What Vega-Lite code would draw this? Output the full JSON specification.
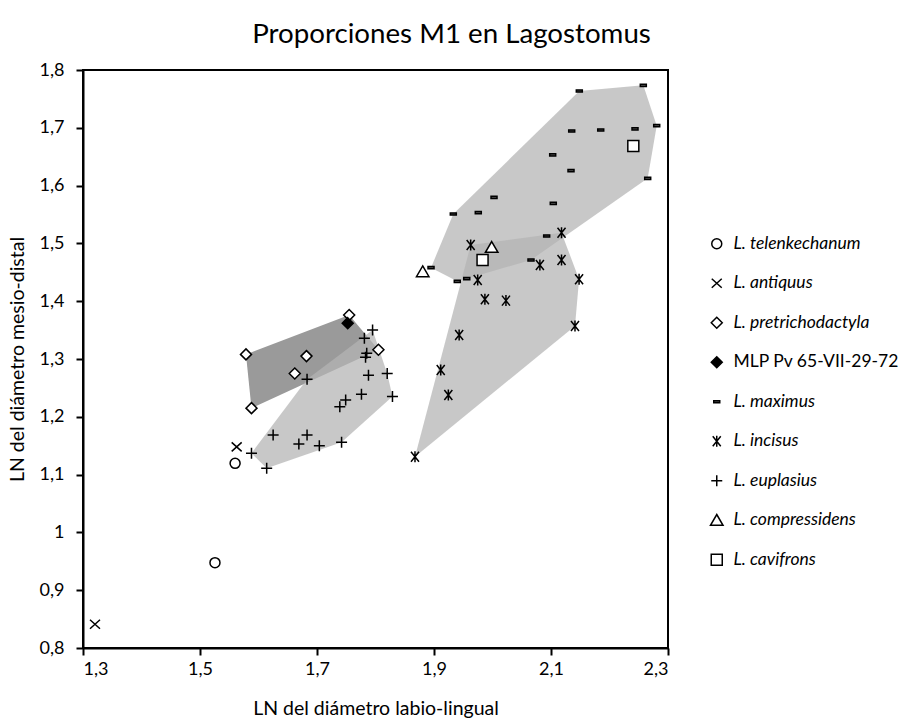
{
  "$schema": "https://vega.github.io/schema/vega-lite/v6.json",
  "width": 585,
  "height": 578,
  "autosize": {"type": "none"},
  "padding": {"left": 83, "top": 70, "right": 236, "bottom": 73},
  "background": "white",
  "title": {
    "text": "Proporciones M1 en Lagostomus",
    "font": "Lato",
    "fontSize": 27.7,
    "fontWeight": "normal",
    "color": "black",
    "anchor": "middle",
    "dx": 76,
    "offset": 12
  },
  "config": {
    "view": {"stroke": "black", "strokeWidth": 2},
    "axis": {
      "domainColor": "black", "domainWidth": 2,
      "tickColor": "black", "tickWidth": 2, "tickSize": 7,
      "labelFont": "Lato", "labelFontSize": 18, "labelColor": "black",
      "titleFont": "Lato", "titleFontSize": 19.5, "titleFontWeight": "normal", "titleColor": "black",
      "grid": false
    }
  },
  "datasets": {
    "pts": [
      {"sp": "L. telenkechanum", "x": 1.560, "y": 1.1195},
      {"sp": "L. telenkechanum", "x": 1.5256, "y": 0.9476},
      {"sp": "L. antiquus", "x": 1.5627, "y": 1.148},
      {"sp": "L. antiquus", "x": 1.3205, "y": 0.841},
      {"sp": "L. maximus", "x": 2.1484, "y": 1.7637},
      {"sp": "L. maximus", "x": 2.2578, "y": 1.7735},
      {"sp": "L. maximus", "x": 2.2807, "y": 1.7036},
      {"sp": "L. maximus", "x": 2.1354, "y": 1.6945},
      {"sp": "L. maximus", "x": 2.185, "y": 1.6962},
      {"sp": "L. maximus", "x": 2.2436, "y": 1.698},
      {"sp": "L. maximus", "x": 2.1029, "y": 1.653},
      {"sp": "L. maximus", "x": 2.1342, "y": 1.6258},
      {"sp": "L. maximus", "x": 2.2653, "y": 1.6126},
      {"sp": "L. maximus", "x": 2.0026, "y": 1.5797},
      {"sp": "L. maximus", "x": 2.1039, "y": 1.5694},
      {"sp": "L. maximus", "x": 1.933, "y": 1.5509},
      {"sp": "L. maximus", "x": 1.9757, "y": 1.5531},
      {"sp": "L. maximus", "x": 2.0926, "y": 1.5128},
      {"sp": "L. maximus", "x": 2.0658, "y": 1.4713},
      {"sp": "L. maximus", "x": 1.8949, "y": 1.458},
      {"sp": "L. maximus", "x": 1.9398, "y": 1.4344},
      {"sp": "L. maximus", "x": 1.956, "y": 1.439},
      {"sp": "L. incisus", "x": 2.118, "y": 1.5185},
      {"sp": "L. incisus", "x": 1.9627, "y": 1.4972},
      {"sp": "L. incisus", "x": 2.081, "y": 1.4626},
      {"sp": "L. incisus", "x": 2.118, "y": 1.4713},
      {"sp": "L. incisus", "x": 2.148, "y": 1.4379},
      {"sp": "L. incisus", "x": 1.9747, "y": 1.4367},
      {"sp": "L. incisus", "x": 1.987, "y": 1.4033},
      {"sp": "L. incisus", "x": 2.023, "y": 1.401},
      {"sp": "L. incisus", "x": 2.141, "y": 1.357},
      {"sp": "L. incisus", "x": 1.943, "y": 1.3415},
      {"sp": "L. incisus", "x": 1.9115, "y": 1.281},
      {"sp": "L. incisus", "x": 1.9245, "y": 1.2377},
      {"sp": "L. incisus", "x": 1.8675, "y": 1.131},
      {"sp": "L. euplasius", "x": 1.795, "y": 1.350},
      {"sp": "L. euplasius", "x": 1.781, "y": 1.336},
      {"sp": "L. euplasius", "x": 1.783, "y": 1.303},
      {"sp": "L. euplasius", "x": 1.785, "y": 1.310},
      {"sp": "L. euplasius", "x": 1.683, "y": 1.265},
      {"sp": "L. euplasius", "x": 1.788, "y": 1.272},
      {"sp": "L. euplasius", "x": 1.820, "y": 1.275},
      {"sp": "L. euplasius", "x": 1.776, "y": 1.239},
      {"sp": "L. euplasius", "x": 1.829, "y": 1.235},
      {"sp": "L. euplasius", "x": 1.749, "y": 1.229},
      {"sp": "L. euplasius", "x": 1.739, "y": 1.2175},
      {"sp": "L. euplasius", "x": 1.625, "y": 1.1685},
      {"sp": "L. euplasius", "x": 1.683, "y": 1.1685},
      {"sp": "L. euplasius", "x": 1.669, "y": 1.153},
      {"sp": "L. euplasius", "x": 1.704, "y": 1.150},
      {"sp": "L. euplasius", "x": 1.742, "y": 1.156},
      {"sp": "L. euplasius", "x": 1.588, "y": 1.137},
      {"sp": "L. euplasius", "x": 1.614, "y": 1.111},
      {"sp": "L. pretrichodactyla", "x": 1.5786, "y": 1.308},
      {"sp": "L. pretrichodactyla", "x": 1.755, "y": 1.376},
      {"sp": "L. pretrichodactyla", "x": 1.682, "y": 1.305},
      {"sp": "L. pretrichodactyla", "x": 1.662, "y": 1.275},
      {"sp": "L. pretrichodactyla", "x": 1.805, "y": 1.316},
      {"sp": "L. pretrichodactyla", "x": 1.588, "y": 1.215},
      {"sp": "MLP Pv 65-VII-29-72", "x": 1.7525, "y": 1.362},
      {"sp": "L. compressidens", "x": 1.9986, "y": 1.4932},
      {"sp": "L. compressidens", "x": 1.8807, "y": 1.451},
      {"sp": "L. cavifrons", "x": 1.983, "y": 1.4713},
      {"sp": "L. cavifrons", "x": 2.2407, "y": 1.6685}
    ],
    "hulls": [
      {"g": "pre", "i": 1, "x": 1.5786, "y": 1.308},
      {"g": "pre", "i": 2, "x": 1.755, "y": 1.376},
      {"g": "pre", "i": 3, "x": 1.805, "y": 1.316},
      {"g": "pre", "i": 4, "x": 1.588, "y": 1.215},
      {"g": "eup", "i": 1, "x": 1.614, "y": 1.111},
      {"g": "eup", "i": 2, "x": 1.588, "y": 1.137},
      {"g": "eup", "i": 3, "x": 1.683, "y": 1.265},
      {"g": "eup", "i": 4, "x": 1.795, "y": 1.350},
      {"g": "eup", "i": 5, "x": 1.820, "y": 1.275},
      {"g": "eup", "i": 6, "x": 1.829, "y": 1.235},
      {"g": "eup", "i": 7, "x": 1.742, "y": 1.156},
      {"g": "max", "i": 1, "x": 1.8949, "y": 1.458},
      {"g": "max", "i": 2, "x": 1.933, "y": 1.5509},
      {"g": "max", "i": 3, "x": 2.1484, "y": 1.7637},
      {"g": "max", "i": 4, "x": 2.2578, "y": 1.7735},
      {"g": "max", "i": 5, "x": 2.2807, "y": 1.7036},
      {"g": "max", "i": 6, "x": 2.2653, "y": 1.6126},
      {"g": "max", "i": 7, "x": 2.0658, "y": 1.4713},
      {"g": "max", "i": 8, "x": 1.956, "y": 1.439},
      {"g": "max", "i": 9, "x": 1.9398, "y": 1.4344},
      {"g": "inc", "i": 1, "x": 1.8675, "y": 1.131},
      {"g": "inc", "i": 2, "x": 1.9627, "y": 1.4972},
      {"g": "inc", "i": 3, "x": 2.118, "y": 1.5185},
      {"g": "inc", "i": 4, "x": 2.148, "y": 1.4379},
      {"g": "inc", "i": 5, "x": 2.141, "y": 1.357}
    ]
  },
  "layer": [
    {
      "data": {"name": "hulls"},
      "transform": [{"filter": "datum.g === 'pre'"}],
      "mark": {"type": "line", "interpolate": "linear-closed", "fill": "#9a9a9a", "fillOpacity": 1, "strokeOpacity": 0, "strokeWidth": 0},
      "encoding": {
        "x": {"field": "x", "type": "quantitative", "scale": {"domain": [1.3, 2.3], "nice": false, "zero": false}},
        "y": {"field": "y", "type": "quantitative", "scale": {"domain": [0.8, 1.8], "nice": false, "zero": false}},
        "detail": {"field": "g"},
        "order": {"field": "i", "type": "quantitative"}
      }
    },
    {
      "data": {"name": "hulls"},
      "transform": [{"filter": "datum.g !== 'pre'"}],
      "mark": {"type": "line", "interpolate": "linear-closed", "fill": "#b4b4b4", "fillOpacity": 0.73, "strokeOpacity": 0, "strokeWidth": 0},
      "encoding": {
        "x": {"field": "x", "type": "quantitative"},
        "y": {"field": "y", "type": "quantitative"},
        "detail": {"field": "g"},
        "order": {"field": "i", "type": "quantitative"}
      }
    },
    {
      "data": {"name": "pts"},
      "mark": {"type": "point", "size": 100, "stroke": "black", "strokeWidth": 1.5, "opacity": 1, "filled": false},
      "encoding": {
        "x": {"field": "x", "type": "quantitative",
          "axis": {"title": "LN del diámetro labio-lingual", "values": [1.3, 1.5, 1.7, 1.9, 2.1, 2.3],
            "labelExpr": "replace(toString(round(datum.value*10)/10), '.', ',')", "labelPadding": 5, "titlePadding": 21}},
        "y": {"field": "y", "type": "quantitative",
          "axis": {"title": "LN del diámetro mesio-distal", "values": [0.8, 0.9, 1, 1.1, 1.2, 1.3, 1.4, 1.5, 1.6, 1.7, 1.8],
            "labelExpr": "replace(toString(round(datum.value*10)/10), '.', ',')", "labelPadding": 12, "titlePadding": 12}},
        "shape": {
          "field": "sp", "type": "nominal",
          "scale": {
            "domain": ["L. telenkechanum", "L. antiquus", "L. pretrichodactyla", "MLP Pv 65-VII-29-72", "L. maximus", "L. incisus", "L. euplasius", "L. compressidens", "L. cavifrons"],
            "range": [
              "circle",
              "M-1,-0.9L1,0.9M-1,0.9L1,-0.9",
              "M0,-1.1L1.1,0L0,1.1L-1.1,0Z",
              "M0,-1.1L1.1,0L0,1.1L-1.1,0Z",
              "M-0.6,-0.22L0.6,-0.22L0.6,0.22L-0.6,0.22Z",
              "M-0.8,-1L0.8,1M-0.8,1L0.8,-1M0,-1.1L0,1.1",
              "M-1.1,0L1.1,0M0,-1.1L0,1.1",
              "M0,-1.15L1.25,1L-1.25,1Z",
              "M-1.1,-1.1L1.1,-1.1L1.1,1.1L-1.1,1.1Z"
            ]
          },
          "legend": {
            "title": null,
            "orient": "none",
            "legendX": 625,
            "legendY": 165,
            "padding": 0,
            "symbolSize": 100,
            "labelFont": "Lato",
            "labelFontSize": 17.5,
            "labelFontStyle": {"expr": "datum.value === 'MLP Pv 65-VII-29-72' ? 'normal' : 'italic'"},
            "labelColor": "black",
            "labelOffset": 8,
            "rowPadding": 20.5,
            "labelLimit": 300,
            "encode": {
              "symbols": {"update": {
                "stroke": {"value": "black"},
                "strokeWidth": {"value": 1.5},
                "fill": {"scale": "fill", "field": "value"}
              }}
            }
          }
        },
        "fill": {
          "field": "sp", "type": "nominal",
          "scale": {
            "domain": ["L. telenkechanum", "L. antiquus", "L. pretrichodactyla", "MLP Pv 65-VII-29-72", "L. maximus", "L. incisus", "L. euplasius", "L. compressidens", "L. cavifrons"],
            "range": ["white", "white", "white", "black", "#555555", "white", "white", "white", "white"]
          },
          "legend": null
        }
      }
    }
  ]
}
